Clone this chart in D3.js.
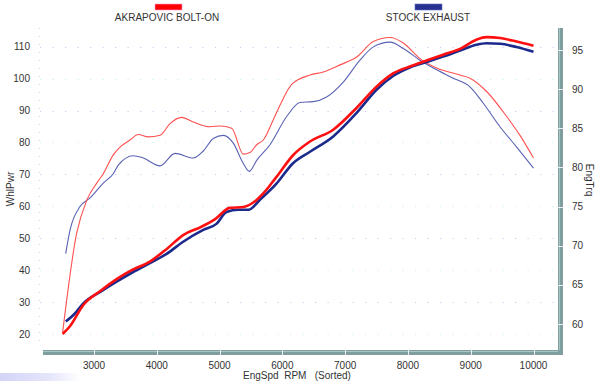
<!DOCTYPE html>
<html><head><meta charset="utf-8">
<script src="https://cdn.jsdelivr.net/npm/d3@7"></script>
<style>
html,body{margin:0;padding:0;background:#fff;}
svg{display:block;font-family:"Liberation Sans",Arial,sans-serif;}
</style></head>
<body><svg id="c" width="600" height="381"></svg>
<script>
// ---- data ----
const seriesNames = ["AKRAPOVIC BOLT-ON", "STOCK EXHAUST"];
const xTicks = [3000,4000,5000,6000,7000,8000,9000,10000];
const leftTicks = [20,30,40,50,60,70,80,90,100,110];
const rightTicks = [60,65,70,75,80,85,90,95];

// wheel power (left axis)
const akraPwrRpm = [2500,2620,2830,3100,3360,3600,3890,4150,4420,4700,4930,5160,5380,5590,5700,5910,6170,6440,6810,7180,7500,7770,8030,8300,8560,8830,9090,9250,9470,9730,10000];
const akraPwr    = [20,22.5,29.1,33.5,37.2,40,42.7,46.5,51,53.5,56,59.5,59.8,62,64.1,69.3,76,80.3,84,90.8,97.5,101.7,103.8,105.7,107.5,109.3,112.2,113,112.7,111.6,110.3];
const stockPwrRpm = [2550,2700,2830,3100,3360,3630,3890,4150,4420,4740,4950,5110,5300,5460,5640,5910,6170,6440,6810,7180,7500,7770,8030,8300,8560,8830,9090,9250,9470,9730,10000];
const stockPwr    = [23.9,26.5,29.6,33.2,36.4,39.5,42.2,45,48.9,52.6,54.5,58.2,58.9,58.9,62,67.2,73.5,77.1,81.9,89.2,96.5,100.9,103.5,105.2,106.9,108.8,110.6,111.1,110.9,109.9,108.4];

// engine torque (right axis)
const akraTrqRpm = [2500,2724,2884,3043,3148,3307,3414,3573,3706,3865,4051,4210,4396,4582,4847,5007,5193,5378,5484,5591,5697,5856,5989,6148,6440,6652,6918,7183,7449,7714,7926,8192,8458,8829,8988,9254,9573,9785,10000];
const akraTrq    = [58.9,71.6,75.8,78.0,79.2,81.6,82.6,83.5,84.2,83.9,84.1,85.6,86.4,85.8,85.2,85.3,85.0,81.7,81.9,82.9,83.5,86.1,88.4,90.6,91.8,92.2,93.1,94.1,96.1,96.6,95.9,93.9,92.7,91.8,91.4,89.7,86.5,84.1,81.2];
const stockTrqRpm = [2549,2618,2777,2937,3148,3307,3387,3626,3785,4051,4290,4582,4741,4900,5060,5219,5378,5474,5591,5803,6069,6281,6493,6705,6970,7236,7449,7714,7926,8192,8404,8722,8988,9200,9466,9732,10000];
const stockTrq    = [69.0,72.0,75.0,76.1,78.0,79.2,80.3,81.5,81.2,80.2,81.8,81.2,82.1,83.7,84.1,83.1,80.5,79.5,80.9,82.9,86.5,88.3,88.4,89.0,90.9,93.7,95.4,96.0,95.2,93.7,92.7,91.4,90.3,88.2,85.2,82.6,79.9];

// ---- chart ----
const svg = d3.select("#c");
const x  = d3.scaleLinear().domain([3000,10000]).range([94,533.5]);
const yL = d3.scaleLinear().domain([20,110]).range([334,46.7]);
const yR = d3.scaleLinear().domain([60,95]).range([324,50]);
const FS = 10;

// bottom-left lavender smear
const defs = svg.append("defs");
const g1 = defs.append("linearGradient").attr("id","smear").attr("x1",0).attr("x2",1);
g1.append("stop").attr("offset",0).attr("stop-color","#d4d4f8");
g1.append("stop").attr("offset",0.6).attr("stop-color","#e4e4fb");
g1.append("stop").attr("offset",1).attr("stop-color","#ffffff");
svg.append("rect").attr("x",0).attr("y",373).attr("width",80).attr("height",8).attr("fill","url(#smear)");

// horizontal dotted grid
leftTicks.forEach((t,i)=>{
  svg.append("line").attr("x1",40).attr("x2",556).attr("y1",Math.round(yL(t))+0.5).attr("y2",Math.round(yL(t))+0.5)
    .attr("stroke", i%2 ? "#c8c8f4" : "#c4f2f2").attr("stroke-width",1.2).attr("stroke-dasharray","1.2,11.3");
});
// left dotted axis
svg.append("line").attr("x1",39.5).attr("x2",39.5).attr("y1",28).attr("y2",346)
  .attr("stroke","#c8d8f0").attr("stroke-width",1).attr("stroke-dasharray","1,7");

// bottom bar
svg.append("rect").attr("x",43).attr("y",350).attr("width",520).attr("height",5).attr("fill","#7f9e9e");
svg.append("line").attr("x1",43).attr("x2",563).attr("y1",351.5).attr("y2",351.5).attr("stroke","#a8c4c4").attr("stroke-width",1);
// right bar
svg.append("rect").attr("x",558).attr("y",28).attr("width",5).attr("height",327).attr("fill","#7f9e9e");
svg.append("line").attr("x1",559.5).attr("x2",559.5).attr("y1",28).attr("y2",350).attr("stroke","#a8c4c4").attr("stroke-width",1);

// bottom ticks + labels
xTicks.forEach(t=>{
  svg.append("line").attr("x1",Math.round(x(t))+0.5).attr("x2",Math.round(x(t))+0.5).attr("y1",350).attr("y2",355)
    .attr("stroke","#e8f0f0").attr("stroke-width",1);
  svg.append("text").attr("x",x(t)).attr("y",369).attr("text-anchor","middle")
    .attr("font-size",FS).attr("fill","#333").text(d3.format("d")(t));
});
// right ticks + labels
rightTicks.forEach(t=>{
  svg.append("line").attr("x1",558).attr("x2",563).attr("y1",Math.round(yR(t))+0.5).attr("y2",Math.round(yR(t))+0.5)
    .attr("stroke","#e8f0f0").attr("stroke-width",1);
  svg.append("text").attr("x",572).attr("y",yR(t)+3.6).attr("font-size",FS).attr("fill","#333").text(t);
});
// left labels
leftTicks.forEach(t=>{
  svg.append("text").attr("x",30).attr("y",yL(t)+3.6).attr("text-anchor","end")
    .attr("font-size",FS).attr("fill","#333").text(t);
});

// axis titles
svg.append("text").attr("x",297).attr("y",379).attr("text-anchor","middle").attr("font-size",FS).attr("fill","#333")
  .attr("xml:space","preserve").text("EngSpd  RPM   (Sorted)");
svg.append("text").attr("transform","translate(14,189) rotate(-90)").attr("text-anchor","middle")
  .attr("font-size",FS).attr("fill","#333").text("WhlPwr");
svg.append("text").attr("transform","translate(586,180) rotate(90)").attr("text-anchor","middle")
  .attr("font-size",FS).attr("fill","#333").text("EngTrq");

// legend
const legend = [
  {name:seriesNames[0], color:"#ff0000", edge:"#ff9ad0", cx:167, rx:155},
  {name:seriesNames[1], color:"#283090", edge:"#6070c0", cx:428, rx:415}
];
legend.forEach(l=>{
  svg.append("rect").attr("x",l.rx).attr("y",4).attr("width",27).attr("height",6)
    .attr("fill",l.color).attr("stroke",l.edge).attr("stroke-width",0.6);
  svg.append("text").attr("x",l.cx).attr("y",21).attr("text-anchor","middle")
    .attr("font-size",FS).attr("fill","#333").text(l.name);
});

// curves
const mk = (rpm, vals) => rpm.map((r,i)=>[r, vals[i]]);
const lineL = d3.line().x(d=>x(d[0])).y(d=>yL(d[1])).curve(d3.curveMonotoneX);
const lineR = d3.line().x(d=>x(d[0])).y(d=>yR(d[1])).curve(d3.curveMonotoneX);

svg.append("path").attr("d",lineR(mk(stockTrqRpm,stockTrq))).attr("fill","none").attr("stroke","#5a62b4").attr("stroke-width",1.1);
svg.append("path").attr("d",lineR(mk(akraTrqRpm,akraTrq))).attr("fill","none").attr("stroke","#ff5050").attr("stroke-width",1.1);
svg.append("path").attr("d",lineL(mk(stockPwrRpm,stockPwr))).attr("fill","none").attr("stroke","#1c2a8c").attr("stroke-width",2.6);
svg.append("path").attr("d",lineL(mk(akraPwrRpm,akraPwr))).attr("fill","none").attr("stroke","#ff1010").attr("stroke-width",2.6);
</script>
</body></html>
